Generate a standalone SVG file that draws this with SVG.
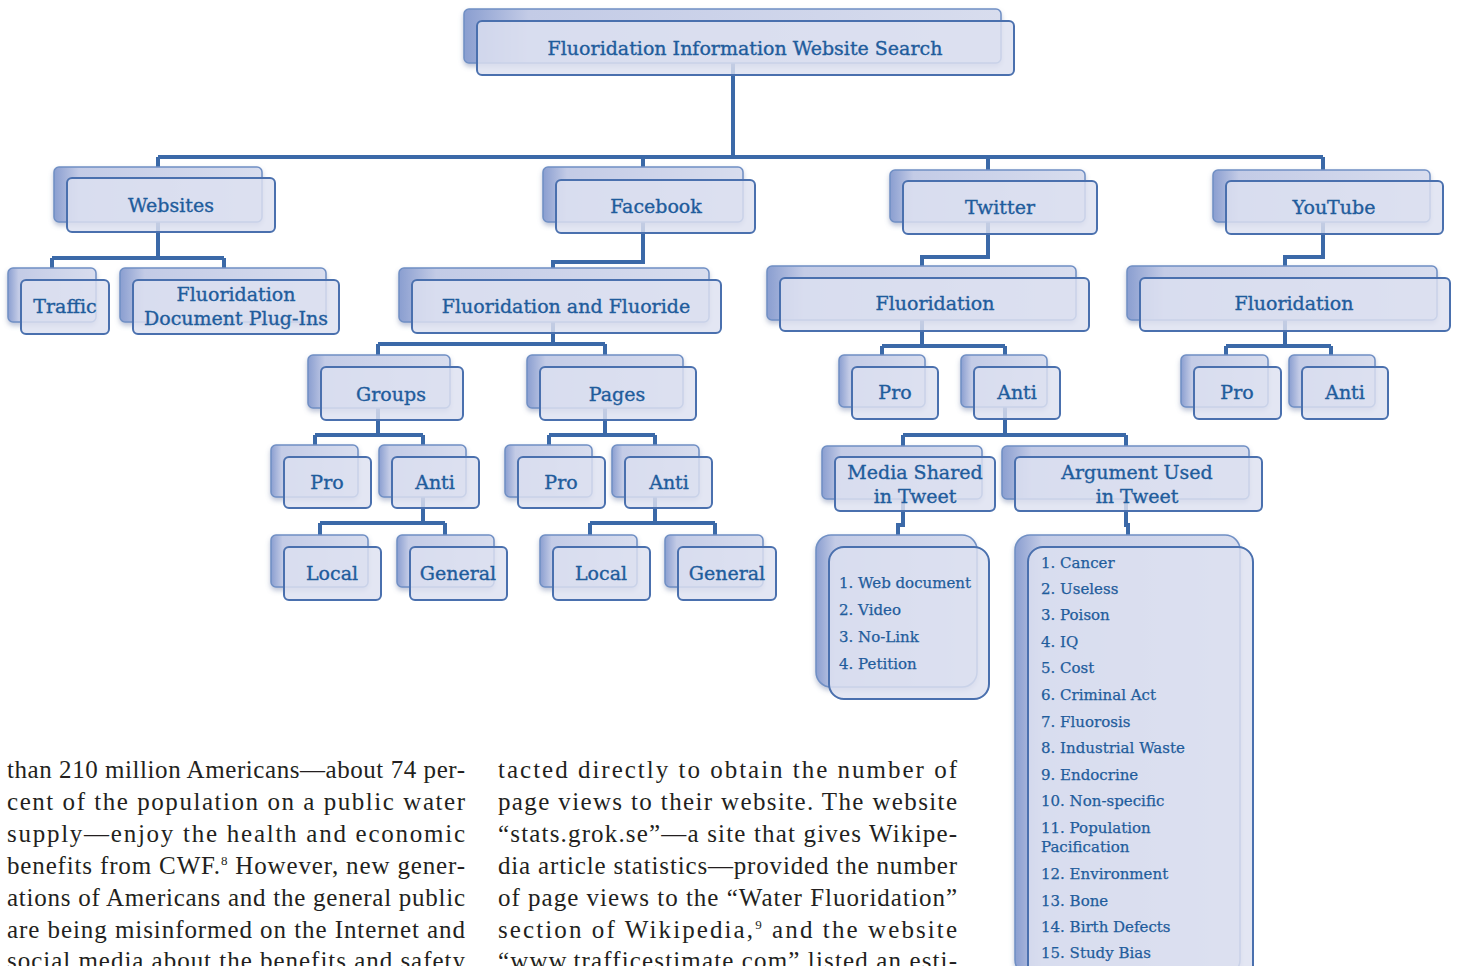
<svg xmlns="http://www.w3.org/2000/svg" width="1457" height="966" viewBox="0 0 1457 966">
<defs>
<linearGradient id="gb" x1="0" y1="0" x2="1" y2="0">
<stop offset="0" stop-color="#8a9ed0"/>
<stop offset="0.12" stop-color="#c3cbe6"/>
<stop offset="1" stop-color="#d8ddee"/>
</linearGradient>
<filter id="sh" x="-10%" y="-10%" width="130%" height="140%">
<feDropShadow dx="0" dy="3" stdDeviation="2.5" flood-color="#6d7fa8" flood-opacity="0.45"/>
</filter>
<style>
.bk{fill:url(#gb);stroke:#6f8fc4;stroke-width:1.5;filter:url(#sh)}
.fr{fill:#dde1f0;fill-opacity:0.82;stroke:#4a70ae;stroke-width:2}
.lbl{font-family:"DejaVu Serif","Liberation Serif",serif;font-size:19px;fill:#1f5c9c;stroke:#1f5c9c;stroke-width:0.35;text-anchor:middle}
.li{font-family:"DejaVu Serif","Liberation Serif",serif;font-size:15px;fill:#1f5c9c;stroke:#1f5c9c;stroke-width:0.25}
.ln{fill:none;stroke:#3b69a8;stroke-width:4;stroke-linejoin:miter}
.body{font-family:"Liberation Serif","Times New Roman",serif;font-size:25px;fill:#231f20}
</style>
</defs>
<rect width="1457" height="966" fill="#ffffff"/>

<g id="connectors">
<path class="ln" d="M733 63V157M158 157H1323M158 157V178M643 157V180M988 157V181M1323 157V181"/>
<path class="ln" d="M158 222V258M52 258H224M52 258V280M224 258V280"/>
<path class="ln" d="M643 222V262H553V280"/>
<path class="ln" d="M553 322V344M378 344H605M378 344V367M605 344V367"/>
<path class="ln" d="M378 408V435M315 435H423M315 435V457M423 435V457"/>
<path class="ln" d="M423 497V523M320 523H445M320 523V547M445 523V547"/>
<path class="ln" d="M605 408V435M549 435H655M549 435V457M655 435V457"/>
<path class="ln" d="M655 497V523M590 523H715M590 523V547M715 523V547"/>
<path class="ln" d="M988 222V257H922V278"/>
<path class="ln" d="M922 320V346M882 346H1005M882 346V367M1005 346V367"/>
<path class="ln" d="M1005 407V435M903 435H1126M903 435V457M1126 435V457"/>
<path class="ln" d="M903 499V525H898V547"/>
<path class="ln" d="M1126 499V525H1128V547"/>
<path class="ln" d="M1323 222V257H1285V278"/>
<path class="ln" d="M1285 320V346M1226 346H1331M1226 346V367M1331 346V367"/>
</g>

<g id="root">
<rect class="bk" x="464" y="9" width="537" height="54" rx="5"/>
<rect class="fr" x="477" y="21" width="537" height="54" rx="5"/>
<text class="lbl" x="745" y="55">Fluoridation Information Website Search</text>
</g>

<g id="websites">
<rect class="bk" x="54" y="167" width="208" height="55" rx="5"/>
<rect class="fr" x="67" y="178" width="208" height="54" rx="5"/>
<text class="lbl" x="171" y="212">Websites</text>
</g>
<g id="traffic">
<rect class="bk" x="8" y="268" width="88" height="54" rx="5"/>
<rect class="fr" x="21" y="280" width="88" height="54" rx="5"/>
<text class="lbl" x="65" y="313">Traffic</text>
</g>
<g id="plugins">
<rect class="bk" x="120" y="268" width="206" height="54" rx="5"/>
<rect class="fr" x="133" y="280" width="206" height="54" rx="5"/>
<text class="lbl" x="236" y="301">Fluoridation</text>
<text class="lbl" x="236" y="325">Document Plug-Ins</text>
</g>

<g id="facebook">
<rect class="bk" x="543" y="167" width="200" height="55" rx="5"/>
<rect class="fr" x="556" y="180" width="199" height="53" rx="5"/>
<text class="lbl" x="656" y="213">Facebook</text>
</g>
<g id="fb-fluoride">
<rect class="bk" x="399" y="268" width="310" height="54" rx="5"/>
<rect class="fr" x="412" y="280" width="309" height="53" rx="5"/>
<text class="lbl" x="566" y="313">Fluoridation and Fluoride</text>
</g>
<g id="fb-groups">
<rect class="bk" x="308" y="355" width="142" height="53" rx="5"/>
<rect class="fr" x="321" y="367" width="142" height="53" rx="5"/>
<text class="lbl" x="391" y="401">Groups</text>
</g>
<g id="fb-pages">
<rect class="bk" x="527" y="355" width="156" height="53" rx="5"/>
<rect class="fr" x="540" y="367" width="156" height="53" rx="5"/>
<text class="lbl" x="617" y="401">Pages</text>
</g>
<g id="groups-pro">
<rect class="bk" x="271" y="445" width="87" height="52" rx="5"/>
<rect class="fr" x="284" y="457" width="87" height="51" rx="5"/>
<text class="lbl" x="327" y="489">Pro</text>
</g>
<g id="groups-anti">
<rect class="bk" x="379" y="445" width="87" height="52" rx="5"/>
<rect class="fr" x="392" y="457" width="87" height="51" rx="5"/>
<text class="lbl" x="435" y="489">Anti</text>
</g>
<g id="groups-local">
<rect class="bk" x="271" y="535" width="97" height="52" rx="5"/>
<rect class="fr" x="284" y="547" width="97" height="53" rx="5"/>
<text class="lbl" x="332" y="580">Local</text>
</g>
<g id="groups-general">
<rect class="bk" x="397" y="535" width="97" height="52" rx="5"/>
<rect class="fr" x="410" y="547" width="97" height="53" rx="5"/>
<text class="lbl" x="458" y="580">General</text>
</g>
<g id="pages-pro">
<rect class="bk" x="505" y="445" width="87" height="52" rx="5"/>
<rect class="fr" x="518" y="457" width="87" height="51" rx="5"/>
<text class="lbl" x="561" y="489">Pro</text>
</g>
<g id="pages-anti">
<rect class="bk" x="612" y="445" width="87" height="52" rx="5"/>
<rect class="fr" x="625" y="457" width="87" height="51" rx="5"/>
<text class="lbl" x="669" y="489">Anti</text>
</g>
<g id="pages-local">
<rect class="bk" x="540" y="535" width="97" height="52" rx="5"/>
<rect class="fr" x="553" y="547" width="97" height="53" rx="5"/>
<text class="lbl" x="601" y="580">Local</text>
</g>
<g id="pages-general">
<rect class="bk" x="665" y="535" width="98" height="52" rx="5"/>
<rect class="fr" x="678" y="547" width="98" height="53" rx="5"/>
<text class="lbl" x="727" y="580">General</text>
</g>

<g id="twitter">
<rect class="bk" x="890" y="170" width="195" height="52" rx="5"/>
<rect class="fr" x="903" y="181" width="194" height="53" rx="5"/>
<text class="lbl" x="1000" y="214">Twitter</text>
</g>
<g id="tw-fluoridation">
<rect class="bk" x="767" y="266" width="309" height="54" rx="5"/>
<rect class="fr" x="780" y="278" width="309" height="53" rx="5"/>
<text class="lbl" x="935" y="310">Fluoridation</text>
</g>
<g id="tw-pro">
<rect class="bk" x="839" y="355" width="86" height="52" rx="5"/>
<rect class="fr" x="852" y="367" width="86" height="52" rx="5"/>
<text class="lbl" x="895" y="399">Pro</text>
</g>
<g id="tw-anti">
<rect class="bk" x="961" y="355" width="86" height="52" rx="5"/>
<rect class="fr" x="974" y="367" width="86" height="52" rx="5"/>
<text class="lbl" x="1017" y="399">Anti</text>
</g>
<g id="tw-media">
<rect class="bk" x="822" y="446" width="160" height="53" rx="5"/>
<rect class="fr" x="835" y="457" width="160" height="54" rx="5"/>
<text class="lbl" x="915" y="479">Media Shared</text>
<text class="lbl" x="915" y="503">in Tweet</text>
</g>
<g id="tw-argument">
<rect class="bk" x="1002" y="446" width="247" height="53" rx="5"/>
<rect class="fr" x="1015" y="457" width="247" height="54" rx="5"/>
<text class="lbl" x="1137" y="479">Argument Used</text>
<text class="lbl" x="1137" y="503">in Tweet</text>
</g>
<g id="media-list">
<rect class="bk" x="816" y="535" width="161" height="152" rx="15"/>
<rect class="fr" x="829" y="547" width="160" height="152" rx="15"/>
<text class="li" x="839" y="588">1. Web document</text>
<text class="li" x="839" y="615">2. Video</text>
<text class="li" x="839" y="642">3. No-Link</text>
<text class="li" x="839" y="669">4. Petition</text>
</g>
<g id="argument-list">
<rect class="bk" x="1015" y="535" width="225" height="440" rx="15"/>
<rect class="fr" x="1028" y="547" width="225" height="440" rx="15"/>
<text class="li" x="1041" y="568">1. Cancer</text>
<text class="li" x="1041" y="594">2. Useless</text>
<text class="li" x="1041" y="620">3. Poison</text>
<text class="li" x="1041" y="647">4. IQ</text>
<text class="li" x="1041" y="673">5. Cost</text>
<text class="li" x="1041" y="700">6. Criminal Act</text>
<text class="li" x="1041" y="727">7. Fluorosis</text>
<text class="li" x="1041" y="753">8. Industrial Waste</text>
<text class="li" x="1041" y="780">9. Endocrine</text>
<text class="li" x="1041" y="806">10. Non-specific</text>
<text class="li" x="1041" y="833">11. Population</text>
<text class="li" x="1041" y="852">Pacification</text>
<text class="li" x="1041" y="879">12. Environment</text>
<text class="li" x="1041" y="906">13. Bone</text>
<text class="li" x="1041" y="932">14. Birth Defects</text>
<text class="li" x="1041" y="958">15. Study Bias</text>
</g>

<g id="youtube">
<rect class="bk" x="1213" y="170" width="217" height="52" rx="5"/>
<rect class="fr" x="1226" y="181" width="217" height="53" rx="5"/>
<text class="lbl" x="1334" y="214">YouTube</text>
</g>
<g id="yt-fluoridation">
<rect class="bk" x="1127" y="266" width="310" height="54" rx="5"/>
<rect class="fr" x="1140" y="278" width="310" height="53" rx="5"/>
<text class="lbl" x="1294" y="310">Fluoridation</text>
</g>
<g id="yt-pro">
<rect class="bk" x="1181" y="355" width="87" height="52" rx="5"/>
<rect class="fr" x="1194" y="367" width="87" height="52" rx="5"/>
<text class="lbl" x="1237" y="399">Pro</text>
</g>
<g id="yt-anti">
<rect class="bk" x="1289" y="355" width="86" height="52" rx="5"/>
<rect class="fr" x="1302" y="367" width="86" height="52" rx="5"/>
<text class="lbl" x="1345" y="399">Anti</text>
</g>

<g id="body-left" class="body">
<text x="7" y="778" textLength="458" lengthAdjust="spacing">than 210 million Americans—about 74 per-</text>
<text x="7" y="810" textLength="458" lengthAdjust="spacing">cent of the population on a public water</text>
<text x="7" y="842" textLength="458" lengthAdjust="spacing">supply—enjoy the health and economic</text>
<text x="7" y="874" textLength="458" lengthAdjust="spacing">benefits from CWF.<tspan font-size="13" dy="-9">8</tspan><tspan dy="9"> However, new gener-</tspan></text>
<text x="7" y="906" textLength="458" lengthAdjust="spacing">ations of Americans and the general public</text>
<text x="7" y="938" textLength="458" lengthAdjust="spacing">are being misinformed on the Internet and</text>
<text x="7" y="969" textLength="458" lengthAdjust="spacing">social media about the benefits and safety</text>
</g>
<g id="body-right" class="body">
<text x="498" y="778" textLength="459" lengthAdjust="spacing">tacted directly to obtain the number of</text>
<text x="498" y="810" textLength="459" lengthAdjust="spacing">page views to their website. The website</text>
<text x="498" y="842" textLength="459" lengthAdjust="spacing">“stats.grok.se”—a site that gives Wikipe-</text>
<text x="498" y="874" textLength="459" lengthAdjust="spacing">dia article statistics—provided the number</text>
<text x="498" y="906" textLength="459" lengthAdjust="spacing">of page views to the “Water Fluoridation”</text>
<text x="498" y="938" textLength="459" lengthAdjust="spacing">section of Wikipedia,<tspan font-size="13" dy="-9">9</tspan><tspan dy="9"> and the website</tspan></text>
<text x="498" y="969" textLength="459" lengthAdjust="spacing">“www.trafficestimate.com” listed an esti-</text>
</g>
</svg>
